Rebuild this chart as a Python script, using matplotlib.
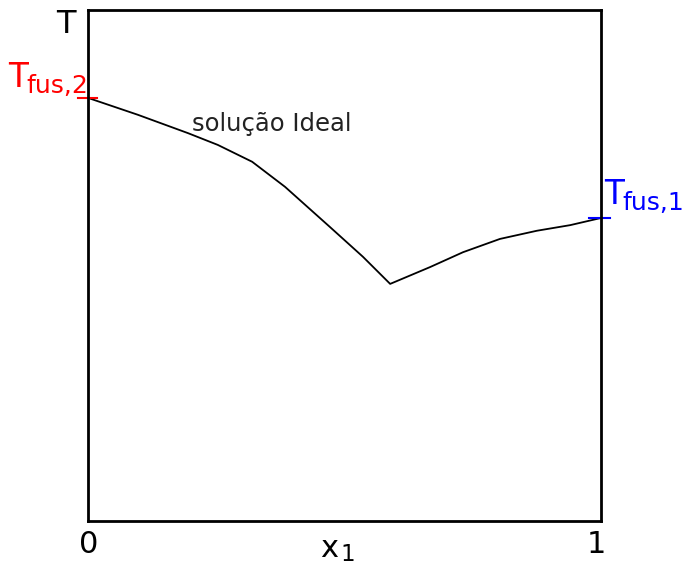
import matplotlib.pyplot as plt
import numpy as np

# liquidus curve for an ideal solution (x1 and T on a 0..1 scale)
x_left = [0.0, 0.097, 0.195, 0.253, 0.320, 0.384, 0.472, 0.536, 0.589]
t_left = [0.828, 0.795, 0.759, 0.736, 0.703, 0.654, 0.575, 0.517, 0.464]
x_right = [0.589, 0.667, 0.731, 0.803, 0.875, 0.940, 1.0]
t_right = [0.464, 0.497, 0.526, 0.552, 0.568, 0.579, 0.593]

t_fus2 = t_left[0]
t_fus1 = t_right[-1]

W, H = 688, 565
fig = plt.figure(figsize=(W / 100, H / 100), dpi=100)
ax = fig.add_axes([88 / W, 44 / H, 513 / W, 511 / H])
ax.set_xlim(0, 1)
ax.set_ylim(0, 1)
ax.set_xticks([])
ax.set_yticks([])
for s in ax.spines.values():
    s.set_linewidth(2)

ax.plot(x_left + x_right[1:], t_left + t_right[1:], color='black', lw=1.3,
        solid_joinstyle='round')

# melting point markers crossing the axes
ax.plot([-0.02, 0.018], [t_fus2, t_fus2], color='red', lw=1.5, clip_on=False)
ax.plot([0.977, 1.018], [t_fus1, t_fus1], color='blue', lw=1.5, clip_on=False)


def ptext(px, py, s, **kw):
    # place text by pixel position (origin top-left), baseline aligned
    fig.text(px / W, 1 - py / H, s, va='baseline', ha='left', **kw)


ptext(8, 87, 'T', color='red', fontsize=23.5)
ptext(26, 93, 'fus,2', color='red', fontsize=18)
ptext(604, 204, 'T', color='blue', fontsize=23.5)
ptext(622, 210, 'fus,1', color='blue', fontsize=18)

ptext(192, 131, 'solução Ideal', color='#222222', fontsize=17.5)

ptext(56, 33, 'T', fontsize=23)
ptext(79, 553, '0', fontsize=22)
ptext(587, 553, '1', fontsize=22)
ptext(320, 557, 'x', fontsize=22)
ptext(340, 561, '1', fontsize=16.5)

fig.savefig('out.png', dpi=100)
